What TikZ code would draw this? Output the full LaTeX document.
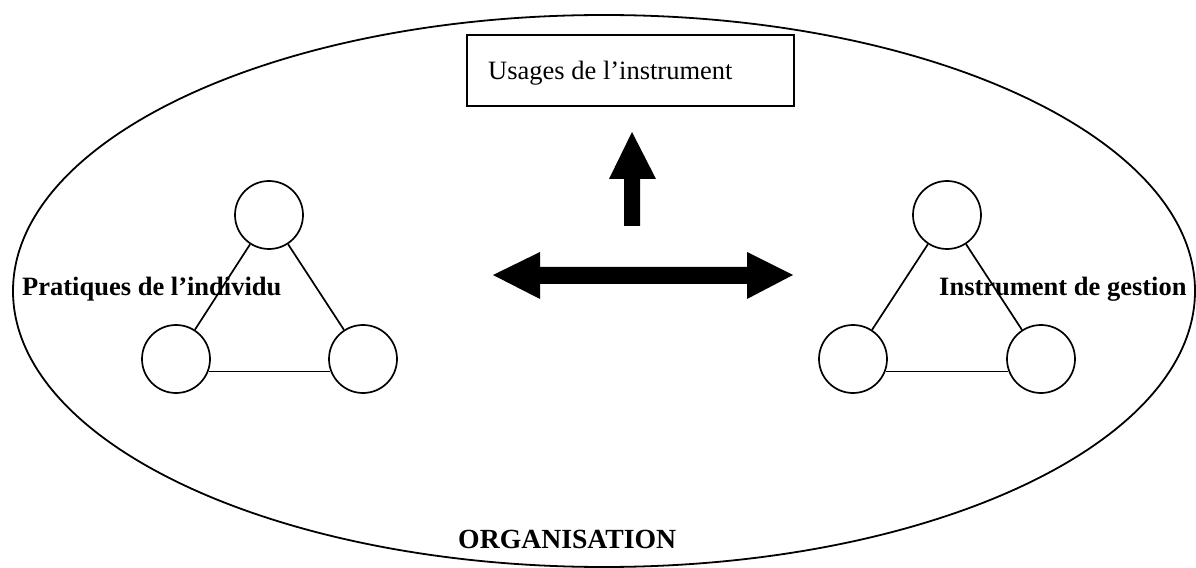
\documentclass[tikz,border=0pt]{standalone}
\usepackage{fontspec}
\setmainfont{Liberation Serif}
\begin{document}
\begin{tikzpicture}[x=1bp,y=-1bp,
  ring/.style={draw,circle,minimum size=68bp,inner sep=0pt,line width=1.7bp},
  edge/.style={line width=1.7bp},
  lbl/.style={font=\fontsize{26.5bp}{30bp}\selectfont\bfseries,anchor=base west,inner sep=0pt},
  blk/.style={fill=black}]
\useasboundingbox (0,0) rectangle (1196,568);
% organisation ellipse
\draw[line width=1.8bp] (604,291) ellipse [x radius=591, y radius=276];
% box
\node[draw,line width=1.5bp,minimum width=327bp,minimum height=71bp,inner sep=0pt] (usage) at (630.5,70.5) {};
\node[anchor=base west,inner sep=0pt,font=\fontsize{26.5bp}{30bp}\selectfont] (usaget) at (488,80) {Usages de l'instrument};
% up arrow
\fill[blk] (624,226) -- (624,179) -- (609,179) -- (632,132) -- (656,179) -- (640,179) -- (640,226) -- cycle;
% double arrow
\fill[blk] (493,275) -- (540,252) -- (540,267) -- (747,267) -- (747,252) -- (793,275) -- (747,299) -- (747,284) -- (540,284) -- (540,299) -- cycle;
% left triangle
\node[ring] (lt) at (269,215) {};
\node[ring] (ll) at (176,359) {};
\node[ring] (lr) at (363,359) {};
\draw[edge] (lt) -- (ll);
\draw[edge] (lt) -- (lr);
\draw[edge] (ll.-21) -- (lr.-159);
% right triangle
\node[ring] (rt) at (947,215) {};
\node[ring] (rl) at (853,359) {};
\node[ring] (rr) at (1041,359) {};
\draw[edge] (rt) -- (rl);
\draw[edge] (rt) -- (rr);
\draw[edge] (rl.-21) -- (rr.-159);
% labels
\node[lbl] (prat) at (22,296) {Pratiques de l'individu};
\node[lbl] (instr) at (939,296) {Instrument de gestion};
\node[lbl,font=\fontsize{27.7bp}{30bp}\selectfont\bfseries] (org) at (458,548) {ORGANISATION};
\end{tikzpicture}
\end{document}
